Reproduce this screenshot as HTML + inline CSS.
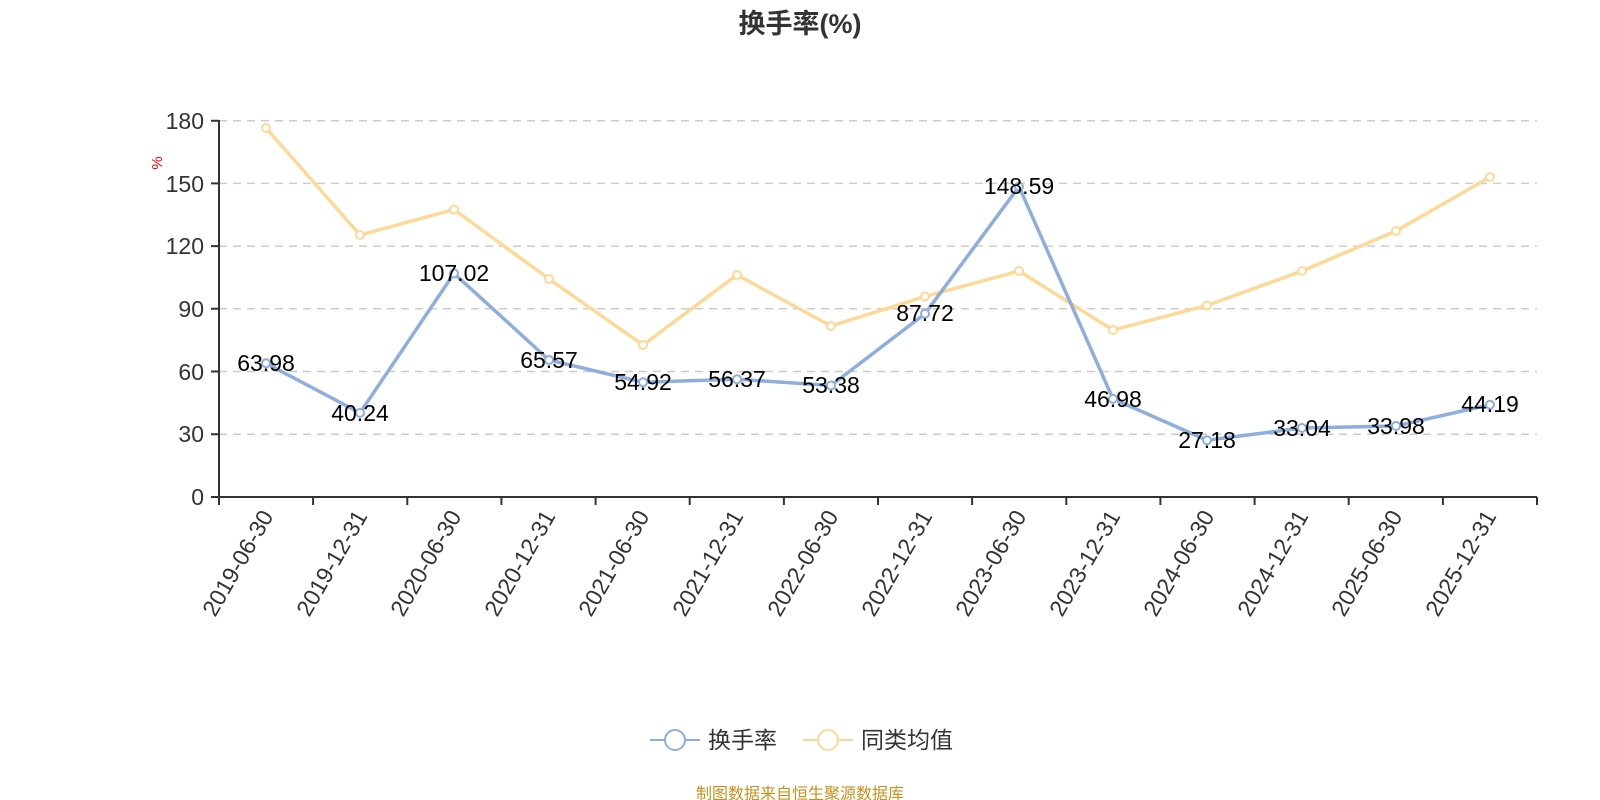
<!DOCTYPE html>
<html><head><meta charset="utf-8"><style>body{margin:0;background:#fff}svg{display:block}</style></head><body>
<svg width="1600" height="800" xmlns="http://www.w3.org/2000/svg" font-family="'Liberation Sans','Noto Sans CJK SC',sans-serif">
<text x="800" y="33" text-anchor="middle" font-size="27" font-weight="bold" fill="#333">换手率(%)</text>
<g stroke="#ccc" stroke-width="1.5" stroke-dasharray="8,6">
<line x1="219" x2="1537" y1="120.7" y2="120.7"/><line x1="219" x2="1537" y1="183.4" y2="183.4"/><line x1="219" x2="1537" y1="246.1" y2="246.1"/><line x1="219" x2="1537" y1="308.8" y2="308.8"/><line x1="219" x2="1537" y1="371.5" y2="371.5"/><line x1="219" x2="1537" y1="434.2" y2="434.2"/>
</g>
<g stroke="#333" stroke-width="2" fill="none">
<line x1="219" y1="120" x2="219" y2="497"/><line x1="211" y1="497" x2="1537" y2="497"/>
<path d="M211 120.7H219M211 183.4H219M211 246.1H219M211 308.8H219M211 371.5H219M211 434.2H219"/>
<path d="M219 497v8M313.1 497v8M407.3 497v8M501.4 497v8M595.6 497v8M689.7 497v8M783.9 497v8M878 497v8M972.1 497v8M1066.3 497v8M1160.4 497v8M1254.6 497v8M1348.7 497v8M1442.9 497v8M1537 497v8"/>
</g>
<g font-size="23" fill="#333" text-anchor="end">
<text x="204" y="129">180</text><text x="204" y="192">150</text><text x="204" y="254">120</text><text x="204" y="317">90</text><text x="204" y="380">60</text><text x="204" y="442">30</text><text x="204" y="505">0</text>
</g>
<text x="162" y="163" font-size="15" fill="red" transform="rotate(-90 162 163)" text-anchor="middle">%</text>
<g font-size="23" fill="#333" text-anchor="end">
<text transform="translate(274 516) rotate(-60)">2019-06-30</text>
<text transform="translate(368 516) rotate(-60)">2019-12-31</text>
<text transform="translate(462 516) rotate(-60)">2020-06-30</text>
<text transform="translate(556 516) rotate(-60)">2020-12-31</text>
<text transform="translate(650 516) rotate(-60)">2021-06-30</text>
<text transform="translate(744 516) rotate(-60)">2021-12-31</text>
<text transform="translate(839 516) rotate(-60)">2022-06-30</text>
<text transform="translate(933 516) rotate(-60)">2022-12-31</text>
<text transform="translate(1027 516) rotate(-60)">2023-06-30</text>
<text transform="translate(1121 516) rotate(-60)">2023-12-31</text>
<text transform="translate(1215 516) rotate(-60)">2024-06-30</text>
<text transform="translate(1309 516) rotate(-60)">2024-12-31</text>
<text transform="translate(1403 516) rotate(-60)">2025-06-30</text>
<text transform="translate(1497 516) rotate(-60)">2025-12-31</text>
</g>
<polyline fill="none" stroke="#fdd998" stroke-width="3.5" points="266,128 360,235 454,209.5 549,279 643,345 737,275 831,326 925,296.5 1019,271 1113,330 1207,305.5 1302,271 1396,231 1490,177"/>
<g fill="#fff" stroke="#fdd998" stroke-width="2">
<circle cx="266" cy="128" r="4"/><circle cx="360" cy="235" r="4"/><circle cx="454" cy="209.5" r="4"/><circle cx="549" cy="279" r="4"/><circle cx="643" cy="345" r="4"/><circle cx="737" cy="275" r="4"/><circle cx="831" cy="326" r="4"/><circle cx="925" cy="296.5" r="4"/><circle cx="1019" cy="271" r="4"/><circle cx="1113" cy="330" r="4"/><circle cx="1207" cy="305.5" r="4"/><circle cx="1302" cy="271" r="4"/><circle cx="1396" cy="231" r="4"/><circle cx="1490" cy="177" r="4"/>
</g>
<polyline fill="none" stroke="#8eaedb" stroke-width="3.5" points="266,363.3 360,412.9 454,273.4 549,360 643,382.3 737,379.2 831,385.5 925,313.7 1019,186.6 1113,398.9 1207,440.2 1302,428 1396,426 1490,404.7"/>
<g fill="#fff" stroke="#8eaedb" stroke-width="2">
<circle cx="266" cy="363.3" r="4"/><circle cx="360" cy="412.9" r="4"/><circle cx="454" cy="273.4" r="4"/><circle cx="549" cy="360" r="4"/><circle cx="643" cy="382.3" r="4"/><circle cx="737" cy="379.2" r="4"/><circle cx="831" cy="385.5" r="4"/><circle cx="925" cy="313.7" r="4"/><circle cx="1019" cy="186.6" r="4"/><circle cx="1113" cy="398.9" r="4"/><circle cx="1207" cy="440.2" r="4"/><circle cx="1302" cy="428" r="4"/><circle cx="1396" cy="426" r="4"/><circle cx="1490" cy="404.7" r="4"/>
</g>
<g font-size="23" fill="#000" text-anchor="middle">
<text x="266" y="371">63.98</text><text x="360" y="421">40.24</text><text x="454" y="281">107.02</text><text x="549" y="368">65.57</text><text x="643" y="390">54.92</text><text x="737" y="387">56.37</text><text x="831" y="393">53.38</text><text x="925" y="321">87.72</text><text x="1019" y="194">148.59</text><text x="1113" y="407">46.98</text><text x="1207" y="448">27.18</text><text x="1302" y="436">33.04</text><text x="1396" y="434">33.98</text><text x="1490" y="412">44.19</text>
</g>
<g stroke-width="2" fill="#fff">
<line x1="650" y1="740" x2="700" y2="740" stroke="#8eaedb"/><circle cx="675" cy="740" r="10" stroke="#8eaedb"/>
<line x1="803" y1="740" x2="853" y2="740" stroke="#fdd998"/><circle cx="828" cy="740" r="10" stroke="#fdd998"/>
</g>
<g font-size="23" fill="#333"><text x="708" y="748">换手率</text><text x="861" y="748">同类均值</text></g>
<text x="800" y="799" text-anchor="middle" font-size="16" fill="#c8901c">制图数据来自恒生聚源数据库</text>
</svg>
</body></html>
